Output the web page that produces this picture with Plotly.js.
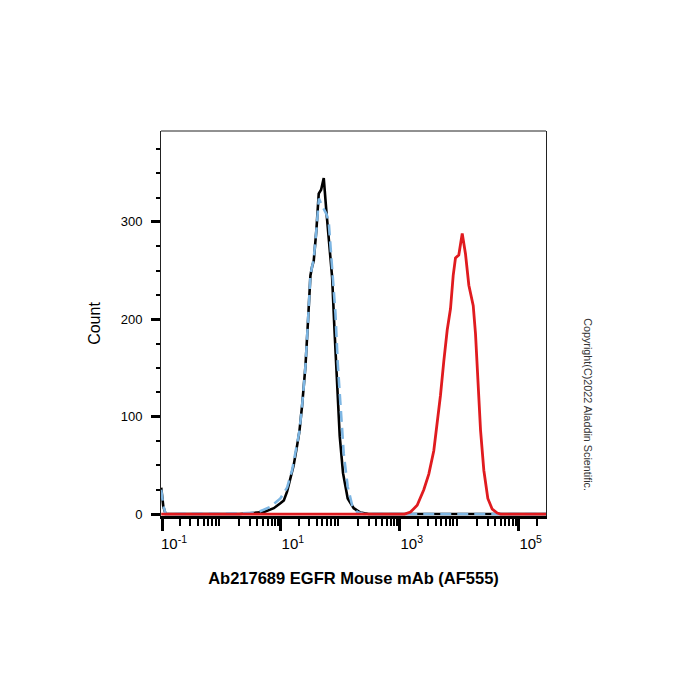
<!DOCTYPE html>
<html>
<head>
<meta charset="utf-8">
<script src="https://cdn.plot.ly/plotly-3.0.1.min.js"></script>
<style>
  html, body { margin: 0; padding: 0; background: #ffffff; }
  #chart { width: 700px; height: 700px; }
</style>
</head>
<body>
<div id="chart"></div>
<script>
// Black solid histogram (control)
const xBlack = [0.097, 0.105, 0.115, 2.0, 5.1, 7.6, 9.8, 11.2, 12.7, 14.5, 16.4, 18.7, 20.5, 22.8, 25.9, 28.7, 31.4, 33.5, 35.7, 39.6, 43.3, 47.5, 52.6, 58.4, 66.3, 72.8, 79.6, 88.3, 97.7, 111, 133, 168, 218, 300, 300000];
const yBlack = [27, 8, 0, 0, 2, 6, 11, 14, 23, 36, 50, 70, 85, 112, 152, 200, 245, 254, 260, 292, 329, 333, 345, 310, 275, 243, 190, 133, 80, 42, 16, 6, 1.5, 0, 0];

// Light blue dashed histogram (control)
const xBlue = [0.097, 0.105, 0.115, 2.0, 4.0, 6.65, 9.8, 12.7, 15.45, 18.7, 20.5, 22.8, 25.9, 28.7, 31.4, 33.5, 35.7, 39.6, 43.6, 48, 52, 58.4, 63.8, 72.8, 82.7, 90.4, 100.4, 114, 133, 158, 192, 250, 300000];
const yBlue = [25, 9, 0, 0.5, 1.5, 7.5, 16, 27, 45, 70, 85, 112, 152, 200, 245, 254, 262, 292, 324, 318, 314, 308, 300, 256, 206, 155, 114, 62, 28, 9, 2, 0, 0];

// Red solid histogram (EGFR stained)
const xRed = [0.097, 1200, 1514, 1963, 2535, 3077, 3735, 4265, 4842, 5506, 6281, 7140, 7925, 8660, 9840, 11240, 12760, 14520, 17210, 18800, 20560, 22850, 25940, 30290, 35940, 43630, 49550, 300000];
const yRed = [0, 0, 2, 9, 25, 41, 65, 93, 122, 157, 189, 211, 245, 263, 266, 288, 267, 235, 214, 185, 137, 86, 45, 16, 5, 1, 0, 0];

// Axis ticks
const xLabelTickVals = [0.1, 10, 1000, 100000];
const xLabelTickText = ['10<sup>-1</sup>', '10<sup>1</sup>', '10<sup>3</sup>', '10<sup>5</sup>'];
const xPlainDecades = [1, 100, 10000];
const xMinorMultipliers = [2, 3, 4, 5, 6, 7, 8, 9];
const xDecades = [0.1, 1, 10, 100, 1000, 10000, 100000];
const yTickVals = [0, 100, 200, 300];
const yTickText = ['0', '100', '200', '300'];

const xTitle = 'Ab217689 EGFR Mouse mAb (AF555)';
const yTitle = 'Count';
const copyright = 'Copyright(C)2022 Aladdin Scientific.';

const minorX = [];
xDecades.forEach(d => xMinorMultipliers.forEach(m => minorX.push(d * m)));

const FONT = 'Arial, "Liberation Sans", Helvetica, sans-serif';
const XRANGE = [-1.017, 5.46];

const traces = [
  { x: xBlack, y: yBlack, type: 'scatter', mode: 'lines', name: 'Control',
    line: { color: '#000000', width: 2.6 }, hoverinfo: 'skip' },
  { x: xBlue, y: yBlue, type: 'scatter', mode: 'lines', name: 'Blank',
    line: { color: '#7db6e3', width: 2.6, dash: '11px,6px' }, hoverinfo: 'skip' },
  { x: xRed, y: yRed, type: 'scatter', mode: 'lines', name: 'EGFR',
    line: { color: '#e01b1f', width: 2.8 }, hoverinfo: 'skip' }
];

const layout = {
  width: 700, height: 700,
  margin: { l: 161, r: 154, t: 131, b: 184, pad: 0 },
  paper_bgcolor: '#ffffff', plot_bgcolor: '#ffffff',
  showlegend: false,
  font: { family: FONT, color: '#000000' },
  xaxis: {
    type: 'log', range: XRANGE,
    tickmode: 'array', tickvals: xLabelTickVals, ticktext: xLabelTickText,
    ticks: 'outside', ticklen: 12, tickwidth: 3, tickcolor: '#000000',
    ticklabelshift: 12,
    showline: true, linewidth: 3, linecolor: '#000000',
    showgrid: false, zeroline: false,
    tickfont: { family: FONT, size: 15, color: '#000000' },
    minor: { tickmode: 'array', tickvals: minorX, ticks: 'outside', ticklen: 7, tickwidth: 2, tickcolor: '#000000', showgrid: false },
    title: { text: '<b>' + xTitle + '</b>', font: { family: FONT, size: 16.5, color: '#000000' }, standoff: 22 }
  },
  xaxis2: {
    type: 'log', range: XRANGE, overlaying: 'x', anchor: 'y', side: 'bottom',
    tickmode: 'array', tickvals: xPlainDecades,
    ticks: 'outside', ticklen: 12, tickwidth: 3, tickcolor: '#000000',
    showticklabels: false, showline: false, showgrid: false, zeroline: false
  },
  yaxis: {
    range: [-2, 393.3],
    tickmode: 'array', tickvals: yTickVals, ticktext: yTickText,
    ticks: 'outside', ticklen: 9, tickwidth: 3, tickcolor: '#000000',
    ticklabelstandoff: 6,
    showline: true, linewidth: 1, linecolor: '#222222', mirror: true,
    showgrid: false, zeroline: false,
    tickfont: { family: FONT, size: 13, color: '#000000' },
    minor: { dtick: 25, tick0: 0, ticks: 'outside', ticklen: 4, tickwidth: 2, tickcolor: '#000000', showgrid: false },
    title: { text: yTitle, font: { family: FONT, size: 16, color: '#000000' }, standoff: 16 }
  },
  shapes: [
    { type: 'line', xref: 'paper', yref: 'paper', x0: 0, x1: 1, y0: 1, y1: 1,
      line: { color: '#222222', width: 1 } }
  ],
  annotations: [
    { text: copyright, xref: 'paper', yref: 'paper', x: 1.109, y: 0.288,
      xanchor: 'center', yanchor: 'middle', textangle: 90, showarrow: false,
      font: { family: FONT, size: 10.8, color: '#333333' } }
  ]
};

Plotly.newPlot('chart', traces, layout, { displayModeBar: false, staticPlot: true }).then(function () {
  // remove Plotly's hidden text-measuring helper and any empty text nodes
  const tester = document.getElementById('js-plotly-tester');
  if (tester) tester.remove();
  document.querySelectorAll('#chart text').forEach(function (t) {
    if (!t.textContent || !t.textContent.trim()) t.remove();
  });
});
</script>
</body>
</html>
